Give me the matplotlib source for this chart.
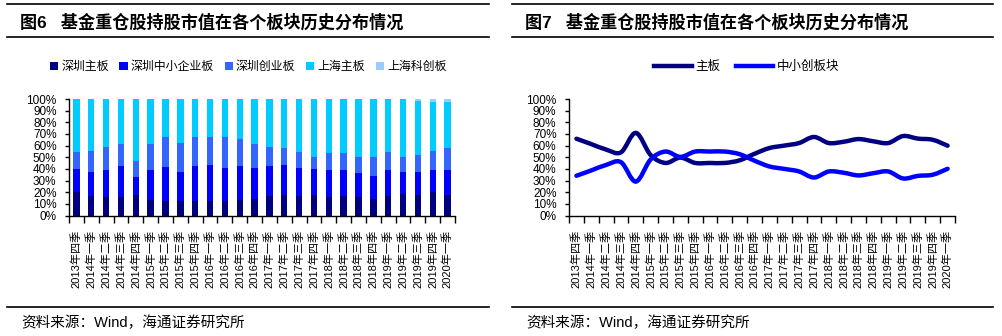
import matplotlib
matplotlib.use("Agg")
import matplotlib.pyplot as plt
import numpy as np
from matplotlib.path import Path
from matplotlib.patches import PathPatch
from matplotlib.lines import Line2D
from matplotlib.ticker import FuncFormatter, MultipleLocator

plt.rcParams['font.family'] = ['Liberation Sans', 'Noto Sans CJK SC']

quarters = ["2013年四季", "2014年一季", "2014年二季", "2014年三季", "2014年四季",
            "2015年一季", "2015年二季", "2015年三季", "2015年四季",
            "2016年一季", "2016年二季", "2016年三季", "2016年四季",
            "2017年一季", "2017年二季", "2017年三季", "2017年四季",
            "2018年一季", "2018年二季", "2018年三季", "2018年四季",
            "2019年一季", "2019年二季", "2019年三季", "2019年四季",
            "2020年一季"]

# shares of holdings market value by board, in percent
sz_main = [20.4, 16.7, 15.6, 15.6, 17.9, 13.3, 12.2, 12.2, 12.2, 12.2, 12.2, 13.3, 14.4,
           16.7, 17.9, 16.7, 17.9, 15.6, 16.7, 15.6, 14.2, 16.7, 18.7, 17.9, 20.4, 17.9]
sme = [19.5, 20.9, 23.5, 26.9, 15.4, 25.8, 29.2, 25.4, 30.3, 31.1, 28.8, 29.2, 26.6,
       25.8, 25.4, 24.3, 22.3, 23.5, 22.4, 21.1, 20.0, 22.4, 18.9, 19.7, 18.7, 21.2]
gem = [14.6, 17.8, 19.9, 18.9, 13.7, 22.3, 25.7, 24.9, 24.6, 23.8, 26.1, 23.4, 20.4,
       16.3, 14.6, 13.5, 10.3, 14.3, 14.3, 13.3, 16.3, 15.4, 12.9, 14.3, 16.3, 18.9]
star = [0] * 23 + [1.5, 2.2, 2.5]
sh_main = [100 - a - b - c - d for a, b, c, d in zip(sz_main, sme, gem, star)]

main_board = [a + b + c for a, b, c in zip(sz_main, sh_main, star)]
sme_gem = [a + b for a, b in zip(sme, gem)]

W, H = 1003, 336
fig = plt.figure(figsize=(W / 100, H / 100), dpi=100)

def fx(px):
    return px / W

def fy(py):
    return 1 - py / H

def frame(x0, x1, title):
    for y in (4, 37, 307):
        fig.add_artist(Line2D([fx(x0), fx(x1)], [fy(y), fy(y)], color='black', lw=1.2))
    fig.text(fx(x0 + 13), fy(22), title, fontsize=12.3, fontweight='bold',
             va='center', ha='left', color='black')
    fig.text(fx(x0 + 14), fy(323), "资料来源：Wind，海通证券研究所", fontsize=10.5,
             va='center', ha='left', color='black')

def style_axes(ax):
    x = np.arange(len(quarters))
    ax.set_xlim(-0.5, len(quarters) - 0.5)
    ax.set_ylim(0, 100)
    ax.yaxis.set_major_locator(MultipleLocator(10))
    ax.yaxis.set_major_formatter(FuncFormatter(lambda v, p: "%d%%" % v))
    ax.set_xticks(np.arange(len(quarters) + 1) - 0.5)
    ax.set_xticklabels([])
    ax.set_xticks(x, minor=True)
    ax.set_xticklabels(quarters, minor=True, rotation=90, fontsize=8)
    ax.tick_params(axis='x', which='major', length=5, width=1, direction='out')
    ax.tick_params(axis='x', which='minor', length=0, pad=10)
    ax.tick_params(axis='y', length=3, width=1, labelsize=8.5, pad=6)
    for s in ('top', 'right'):
        ax.spines[s].set_visible(False)
    for s in ('left', 'bottom'):
        ax.spines[s].set_linewidth(1)

# left panel: stacked bars
frame(7, 489, "图6   基金重仓股持股市值在各个板块历史分布情况")
ax1 = fig.add_axes([fx(69), fy(215.5), fx(386), 116.5 / H])
x = np.arange(len(quarters))
series = [("深圳主板", sz_main, "#000080"),
          ("深圳中小企业板", sme, "#0000FF"),
          ("深圳创业板", gem, "#3366FF"),
          ("上海主板", sh_main, "#00CCFF"),
          ("上海科创板", star, "#99CCFF")]
bottom = np.zeros(len(quarters))
for name, vals, col in series:
    ax1.bar(x, vals, 0.43, bottom=bottom, color=col, label=name, linewidth=0)
    bottom += np.array(vals)
style_axes(ax1)
ax1.legend(loc='center', bbox_to_anchor=(fx(248), fy(67)), bbox_transform=fig.transFigure,
           ncol=5, frameon=False, fontsize=8.6, handlelength=0.7, handleheight=0.7,
           handletextpad=0.25, columnspacing=0.9)

# right panel: smoothed lines
def smooth_path(xs, ys):
    xs = np.asarray(xs, float)
    ys = np.asarray(ys, float)
    verts = [(xs[0], ys[0])]
    codes = [Path.MOVETO]
    n = len(xs)
    for i in range(n - 1):
        p0 = i - 1 if i > 0 else i
        p3 = i + 2 if i + 2 < n else i + 1
        c1 = (xs[i] + (xs[i + 1] - xs[p0]) / 6, ys[i] + (ys[i + 1] - ys[p0]) / 6)
        c2 = (xs[i + 1] - (xs[p3] - xs[i]) / 6, ys[i + 1] - (ys[p3] - ys[i]) / 6)
        verts += [c1, c2, (xs[i + 1], ys[i + 1])]
        codes += [Path.CURVE4] * 3
    return Path(verts, codes)

frame(512, 993, "图7   基金重仓股持股市值在各个板块历史分布情况")
ax2 = fig.add_axes([fx(569), fy(215.5), fx(386), 116.5 / H])
lines = [("主板", main_board, "#000080"), ("中小创板块", sme_gem, "#0000FF")]
handles = []
for name, vals, col in lines:
    ax2.add_patch(PathPatch(smooth_path(x, vals), facecolor='none', edgecolor=col,
                            lw=3.2, capstyle='round', joinstyle='round'))
    handles.append(Line2D([], [], color=col, lw=3.2, label=name))
style_axes(ax2)
ax2.legend(handles=handles, loc='center', bbox_to_anchor=(fx(747), fy(67)),
           bbox_transform=fig.transFigure, ncol=2, frameon=False, fontsize=9,
           handlelength=3.0, handletextpad=0.3, columnspacing=1.2)

fig.savefig("out.png", dpi=100)
